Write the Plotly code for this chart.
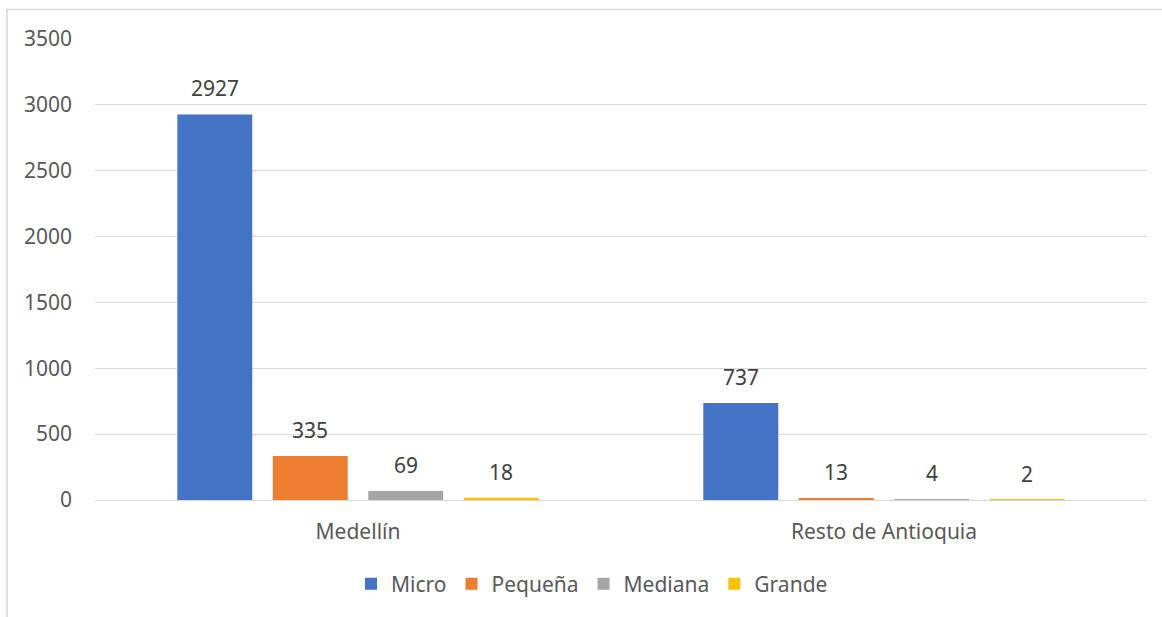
import plotly.graph_objects as go

categories = ["Medellín", "Resto de Antioquia"]
series_names = ["Micro", "Pequeña", "Mediana", "Grande"]
micro = [2927, 737]
pequena = [335, 13]
mediana = [69, 4]
grande = [18, 2]
series_values = [micro, pequena, mediana, grande]
colors = ["#4472C4", "#ED7D31", "#A5A5A5", "#FFC000"]
y_ticks = [0, 500, 1000, 1500, 2000, 2500, 3000, 3500]

FONT = "Noto Sans, Carlito, Calibri, sans-serif"
FS = 21
bargap = 0.274
bargroupgap = 0.215

fig = go.Figure()
for name, vals, col in zip(series_names, series_values, colors):
    fig.add_trace(go.Bar(
        x=categories, y=vals, name=name,
        marker=dict(color=col, line=dict(width=0)),
    ))

n = len(series_names)
slot = (1 - bargap) / n
for i, vals in enumerate(series_values):
    for ci, v in enumerate(vals):
        fig.add_annotation(
            x=ci + (i - (n - 1) / 2) * slot, y=v, xref="x", yref="y",
            text=str(v), showarrow=False, yshift=26,
            font=dict(family=FONT, size=FS, color="#404040"),
        )

L, R, T, B = 95, 15, 39, 117
W, H = 1162, 617
pw, ph = W - L - R, H - T - B
# outer chart border (right and bottom edges lie outside the view)
fig.add_shape(type="rect", xref="paper", yref="paper",
              x0=(7 - L) / pw, x1=(W + 10 - L) / pw,
              y0=-(B + 10) / ph,
              y1=1 + (T - 9.5) / ph,
              line=dict(color="#D9D9D9", width=1.5), layer="below")

fig.update_layout(
    width=W, height=H,
    margin=dict(l=L, r=R, t=T, b=B),
    paper_bgcolor="white", plot_bgcolor="white",
    barmode="group", bargap=bargap, bargroupgap=bargroupgap,
    font=dict(family=FONT, size=FS, color="#595959"),
    showlegend=True,
    legend=dict(orientation="h", x=(592 - L) / pw, xanchor="center",
                y=-(584 - (H - B)) / ph, yanchor="middle",
                font=dict(family=FONT, size=FS, color="#595959"),
                itemwidth=30, traceorder="normal"),
    xaxis=dict(showgrid=False, showline=False, ticks="",
               ticklabelstandoff=17,
               tickfont=dict(family=FONT, size=FS, color="#595959")),
    yaxis=dict(range=[0, 3500], tickvals=y_ticks, showgrid=True,
               gridcolor="#D9D9D9", gridwidth=1.3, zeroline=True,
               zerolinecolor="#D9D9D9", zerolinewidth=1.3,
               ticks="", ticklabelstandoff=22,
               tickfont=dict(family=FONT, size=FS, color="#595959")),
)

fig.write_html("out.html")
